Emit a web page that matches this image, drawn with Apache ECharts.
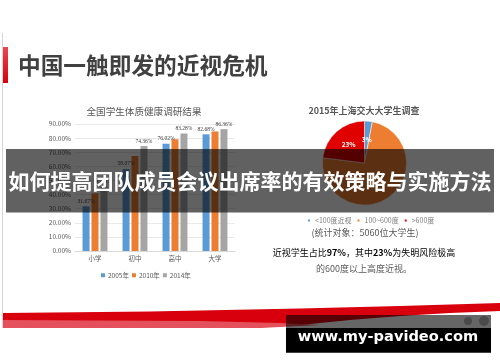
<!DOCTYPE html>
<html><head><meta charset="utf-8">
<script src="https://cdn.jsdelivr.net/npm/echarts@6/dist/echarts.min.js"></script>
<style>html,body{margin:0;padding:0;background:#fff}#c{width:500px;height:362px}</style>
</head><body><div id="c"></div>
<script>
// ---- data ----
const categories = ['小学', '初中', '高中', '大学'];
const years = ['2005年', '2010年', '2014年'];
const rate2005 = [31.67, 58.07, 76.02, 82.68];
const rate2010 = [40.89, 67.33, 79.20, 84.72];
const rate2014 = [45.71, 74.36, 83.28, 86.36];
const yMin = 0, yMax = 90, yStep = 10;
const pieNames = ['<100度近视', '100~600度', '>600度'];
const pieValues = [3, 74, 23];
const pieLabels = ['3%', '', '23%'];
const slideTitle = '中国一触即发的近视危机';
const barTitle = '全国学生体质健康调研结果';
const pieTitle = '2015年上海交大大学生调查';
const bannerText = '如何提高团队成员会议出席率的有效策略与实施方法';
const watermark = 'www.my-pavideo.com';

const CJK = '"Noto Sans CJK SC", "Noto Sans", sans-serif';
const barColors = ['#5B9BD5', '#ED7D31', '#A5A5A5'];
const pieColors = ['#5B9BD5', '#ED7D31', '#E00000'];

const chart = echarts.init(document.getElementById('c'), null, {renderer: 'canvas'});

const pctLabel = {
  show: true, position: 'top', distance: 2, fontSize: 5.5, color: '#404040',
  fontFamily: 'serif', formatter: p => p.value.toFixed(2) + '%'
};

const option = {
  backgroundColor: '#fff',
  animation: false,
  textStyle: {fontFamily: CJK},
  grid: {left: 75, width: 160, top: 124, bottom: 111, containLabel: false},
  xAxis: {
    type: 'category', data: categories,
    axisLine: {lineStyle: {color: '#D9D9D9'}}, axisTick: {show: false},
    axisLabel: {color: '#595959', fontSize: 6.5, margin: 4, fontFamily: CJK}
  },
  yAxis: {
    type: 'value', min: yMin, max: yMax, interval: yStep,
    axisLine: {show: false}, axisTick: {show: false},
    splitLine: {lineStyle: {color: '#E3E3E3', width: 0.8}},
    axisLabel: {color: '#595959', fontSize: 6.5, margin: 4, formatter: v => v.toFixed(2) + '%'}
  },
  legend: [{
    data: years, left: 96, top: 267, icon: 'rect', itemWidth: 4, itemHeight: 4, itemGap: 3,
    textStyle: {fontSize: 6.5, color: '#595959', padding: [0, 0, 0, -2]}
  }, {
    data: pieNames, left: 301, top: 212, icon: 'rect', itemWidth: 4, itemHeight: 4, itemGap: 4,
    textStyle: {fontSize: 7, color: '#7F7F7F', padding: [0, 0, 0, -1]}
  }],
  series: [
    {name: years[0], type: 'bar', data: rate2005, barWidth: 7, barGap: '28%',
     itemStyle: {color: barColors[0]}, label: pctLabel},
    {name: years[1], type: 'bar', data: rate2010, barWidth: 7, barGap: '28%',
     itemStyle: {color: barColors[1]}},
    {name: years[2], type: 'bar', data: rate2014, barWidth: 7, barGap: '28%',
     itemStyle: {color: barColors[2]}, label: pctLabel},
    {type: 'pie', center: [364.5, 163], radius: 42, startAngle: 90, clockwise: true,
     color: pieColors,
     itemStyle: {borderColor: '#fff', borderWidth: 0.5},
     label: {show: true, position: 'inside', color: '#fff', fontSize: 6.5, fontWeight: 'bold',
       formatter: p => pieLabels[p.dataIndex]},
     labelLine: {show: false},
     data: pieNames.map((n, i) => ({name: n, value: pieValues[i]}))}
  ],
  graphic: [
    // slide frame
    {type: 'line', shape: {x1: 2.5, y1: 33, x2: 2.5, y2: 328}, style: {stroke: '#D4D4D4', lineWidth: 1}},
    {type: 'rect', shape: {x: 3, y: 47, width: 5, height: 36},
     style: {fill: new echarts.graphic.LinearGradient(0, 0, 0, 1, [{offset: 0, color: '#E84850'}, {offset: 1, color: '#D8000E'}])}},
    {type: 'text', x: 18, y: 65, style: {text: slideTitle, font: 'bold 22.7px ' + CJK, fill: '#404040',
      textVerticalAlign: 'middle', shadowBlur: 2, shadowColor: 'rgba(0,0,0,0.25)', shadowOffsetX: 1, shadowOffsetY: 1}},
    {type: 'text', x: 144, y: 111, style: {text: barTitle, font: '9.6px ' + CJK, fill: '#595959',
      textAlign: 'center', textVerticalAlign: 'middle'}},
    {type: 'text', x: 364, y: 111, style: {text: pieTitle, font: 'bold 9px ' + CJK, fill: '#595959',
      textAlign: 'center', textVerticalAlign: 'middle'}},
    {type: 'text', x: 365, y: 233, style: {text: '(统计对象：5060位大学生)', font: '9px ' + CJK, fill: '#595959',
      textAlign: 'center', textVerticalAlign: 'middle'}},
    {type: 'text', x: 364, y: 252.7, style: {
      text: '{a|近视学生占比}{o|97%}{a|，其中}{r|23%}{a|为失明风险极高}',
      textAlign: 'center', textVerticalAlign: 'middle',
      rich: {
        a: {fontSize: 9, fontFamily: CJK, color: '#595959'},
        o: {fontSize: 9, fontFamily: CJK, color: '#F5A033', fontWeight: 'bold'},
        r: {fontSize: 9, fontFamily: CJK, color: '#FF0000', fontWeight: 'bold'}
      }}},
    {type: 'text', x: 364, y: 269, style: {text: '的600度以上高度近视。', font: '9px ' + CJK, fill: '#595959',
      textAlign: 'center', textVerticalAlign: 'middle'}},
    // bottom swoosh
    {type: 'polygon', shape: {points: [[3, 313], [150, 311.5], [300, 308.5], [400, 306], [500, 303],
      [500, 311], [450, 313], [400, 316], [350, 320], [300, 325], [260, 327.5], [3, 328]]},
     style: {fill: '#D9000D'}},
    {type: 'polygon', shape: {points: [[3, 320], [100, 320.5], [200, 321], [280, 323], [320, 325],
      [260, 328], [3, 328]]}, style: {fill: '#E4505B'}},
    {type: 'circle', shape: {cx: 468, cy: 321, r: 4}, style: {fill: '#B8B8B8'}},
    {type: 'circle', shape: {cx: 484, cy: 321, r: 5}, style: {fill: '#B8B8B8'}},
    // overlay banner
    {type: 'rect', z: 100, shape: {x: 6, y: 149, width: 488, height: 63.5}, style: {fill: 'rgba(0,0,0,0.62)'}},
    {type: 'text', z: 101, x: 250, y: 181, style: {text: bannerText, font: 'bold 21px ' + CJK, fill: '#fff',
      textAlign: 'center', textVerticalAlign: 'middle'}},
    // watermark
    {type: 'rect', z: 100, shape: {x: 286, y: 315, width: 205, height: 13}, style: {fill: 'rgba(0,0,0,0.6)'}},
    {type: 'rect', z: 100, shape: {x: 286, y: 328, width: 205, height: 24.7}, style: {fill: '#000'}},
    {type: 'text', z: 101, x: 388, y: 337, style: {text: watermark, font: 'bold 14.6px "DejaVu Sans", sans-serif',
      fill: '#fff', textAlign: 'center', textVerticalAlign: 'middle'}}
  ]
};
chart.setOption(option);
</script>
</body></html>
